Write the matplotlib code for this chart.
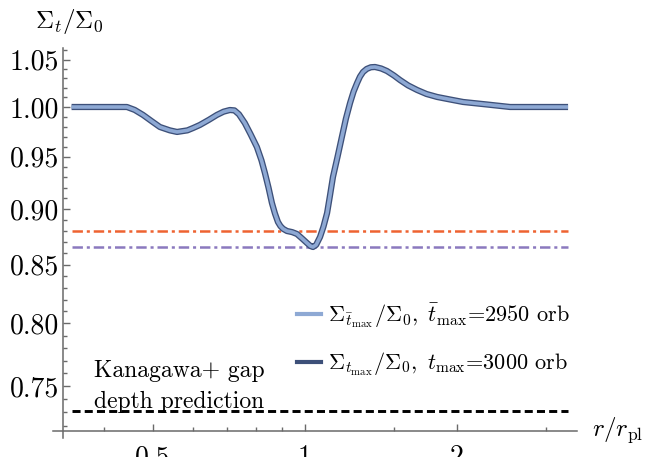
import matplotlib
matplotlib.use("Agg")
import matplotlib.pyplot as plt
from matplotlib.lines import Line2D
from matplotlib.ticker import FixedLocator, FixedFormatter, NullFormatter

plt.rcParams["font.family"] = "serif"
plt.rcParams["font.serif"] = ["cmr10"]
plt.rcParams["mathtext.fontset"] = "cm"
plt.rcParams["axes.formatter.use_mathtext"] = True
plt.rcParams["lines.scale_dashes"] = False

# surface density profile at the end of the run, r/r_pl vs Sigma/Sigma_0
r = [0.345, 0.444, 0.460, 0.478, 0.497, 0.516, 0.540, 0.558, 0.585, 0.600,
     0.619, 0.645, 0.669, 0.690, 0.710, 0.725, 0.740, 0.760, 0.780, 0.803,
     0.820, 0.833, 0.847, 0.860, 0.872, 0.884, 0.894, 0.905, 0.921, 0.943,
     0.964, 0.988, 1.009, 1.025, 1.037, 1.052, 1.071, 1.088, 1.106, 1.120,
     1.136, 1.160, 1.183, 1.205, 1.228, 1.248, 1.268, 1.285, 1.303, 1.325,
     1.350, 1.376, 1.415, 1.453, 1.500, 1.542, 1.600, 1.667, 1.740, 1.826,
     1.940, 2.055, 2.300, 2.547, 3.318]
sigma_3000 = [1.0, 1.0, 0.9970, 0.9918, 0.9855, 0.9796, 0.9762, 0.9746, 0.9762, 0.9785,
              0.9816, 0.9868, 0.9918, 0.9952, 0.9969, 0.9965, 0.9925, 0.9836, 0.9725, 0.9596,
              0.9465, 0.9342, 0.9200, 0.9058, 0.8960, 0.8882, 0.8845, 0.8820, 0.8800, 0.8790,
              0.8773, 0.8730, 0.8692, 0.8665, 0.8656, 0.8675, 0.8746, 0.8840, 0.8965, 0.9120,
              0.9304, 0.9500, 0.9695, 0.9880, 1.0041, 1.0160, 1.0250, 1.0318, 1.0367, 1.0400,
              1.0418, 1.0421, 1.0405, 1.0378, 1.0330, 1.0282, 1.0225, 1.0177, 1.0135, 1.0104,
              1.0077, 1.0052, 1.0025, 1.0, 1.0]
sigma_2950 = list(sigma_3000)

depth_orange = 0.880
depth_purple = 0.866
depth_kanagawa = 0.731

y_major = [0.75, 0.80, 0.85, 0.90, 0.95, 1.00, 1.05]
y_minor = [0.72, 0.73, 0.74, 0.76, 0.77, 0.78, 0.79, 0.81, 0.82, 0.83, 0.84,
           0.86, 0.87, 0.88, 0.89, 0.91, 0.92, 0.93, 0.94, 0.96, 0.97, 0.98,
           0.99, 1.01, 1.02, 1.03, 1.04, 1.06]
x_major = [0.5, 1, 2]
x_major_labels = ["0.5", "1", "2"]
x_minor = [0.4, 0.6, 0.7, 0.8, 0.9, 1.5, 3]

light = "#8EA9D4"
dark = "#3D5079"
axis_grey = "#6a6a6a"

fig = plt.figure(figsize=(6.56, 4.57), dpi=100)
ax = fig.add_axes([53 / 656, 19 / 457, 524 / 656, 390 / 457])
ax.set_xscale("log")
ax.set_yscale("log")
ax.set_xlim(0.317, 3.456)
ax.set_ylim(0.7109, 1.0627)

# reference depth levels
ax.hlines(depth_orange, r[0], r[-1], color="#EE6331", lw=1.8,
          linestyles=[(0, (7.5, 2.8, 2.2, 2.8))])
ax.hlines(depth_purple, r[0], r[-1], color="#8B79BE", lw=1.8,
          linestyles=[(0, (7.5, 2.8, 2.2, 2.8))])
ax.hlines(depth_kanagawa, r[0], r[-1], color="black", lw=2.1,
          linestyles=[(0, (5.8, 3.0))])

# profiles: thick dark one underneath, lighter one on top
ax.plot(r, sigma_3000, color=dark, lw=4.5, solid_capstyle="butt", solid_joinstyle="round")
ax.plot(r, sigma_2950, color=light, lw=2.6, solid_capstyle="butt", solid_joinstyle="round")

ax.text(0.563, 0.7495, "Kanagawa+ gap\ndepth prediction", fontsize=17,
        ha="center", va="center", linespacing=1.5)

handles = [Line2D([], [], color=light, lw=3.0),
           Line2D([], [], color=dark, lw=3.0)]
labels = [r"$\Sigma_{\bar{t}_{\max}}/\Sigma_0,\ \bar{t}_{\max}$=2950 orb",
          r"$\Sigma_{t_{\max}}/\Sigma_0,\ t_{\max}$=3000 orb"]
ax.legend(handles, labels, loc="center left", bbox_to_anchor=(0.466, 0.252),
          frameon=False, fontsize=16, handlelength=1.05, handletextpad=0.35,
          labelspacing=0.95, borderpad=0, borderaxespad=0)

# Mathematica-style crossing axes
for side in ("top", "right"):
    ax.spines[side].set_visible(False)
ax.spines["left"].set_position(("data", 0.332))
ax.spines["bottom"].set_position(("data", 0.716))
for side in ("left", "bottom"):
    ax.spines[side].set_color(axis_grey)
    ax.spines[side].set_linewidth(1.1)

ax.yaxis.set_major_locator(FixedLocator(y_major))
ax.yaxis.set_major_formatter(FixedFormatter([f"{v:.2f}" for v in y_major]))
ax.yaxis.set_minor_locator(FixedLocator(y_minor))
ax.yaxis.set_minor_formatter(NullFormatter())
ax.xaxis.set_major_locator(FixedLocator(x_major))
ax.xaxis.set_major_formatter(FixedFormatter(x_major_labels))
ax.xaxis.set_minor_locator(FixedLocator(x_minor))
ax.xaxis.set_minor_formatter(NullFormatter())

ax.tick_params(which="both", direction="in", color=axis_grey, width=1.0)
ax.tick_params(which="major", length=5, labelsize=20)
ax.tick_params(which="minor", length=3)
ax.tick_params(axis="y", which="major", pad=3)
ax.tick_params(axis="x", which="major", pad=10)

fig.text(35 / 656, 1 - 28 / 457, r"$\Sigma_t/\Sigma_0$", fontsize=18, va="baseline")
fig.text(592 / 656, 1 - 436 / 457, r"$r/r_{\mathrm{pl}}$", fontsize=18, va="baseline")

fig.savefig("out.png", dpi=100)
